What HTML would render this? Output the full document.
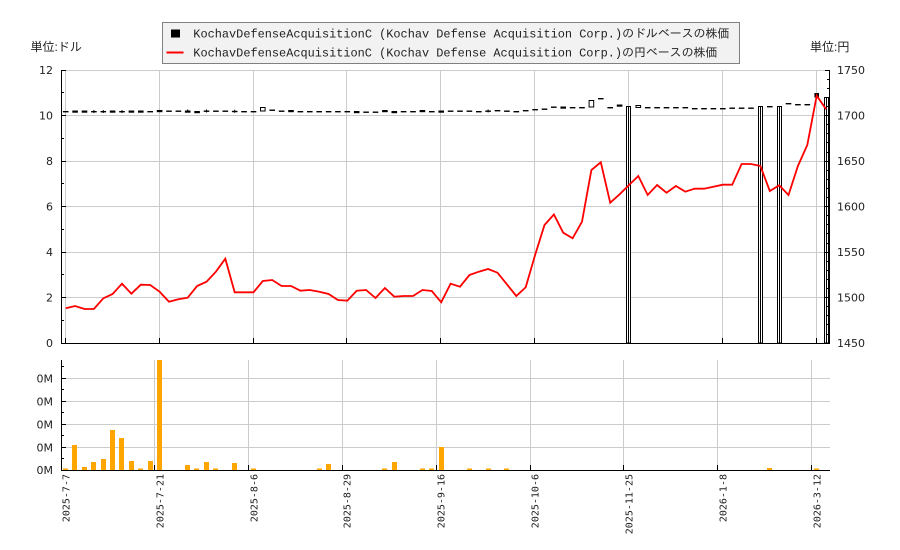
<!DOCTYPE html>
<html>
<head>
<meta charset="utf-8">
<style>
  html,body{margin:0;padding:0;background:#fff;}
  svg{display:block;}
  .ax{font-family:"DejaVu Sans","Liberation Sans",sans-serif;font-size:11px;fill:#222;}
  .unit{font-family:"Liberation Sans","Noto Sans CJK JP",sans-serif;font-size:12px;fill:#222;}
  .leg{font-family:"Liberation Mono","IPAGothic","Noto Sans CJK JP",monospace;font-size:12px;fill:#222;}
  .dt{font-family:"DejaVu Sans Mono","Liberation Mono",monospace;font-size:10px;fill:#222;}
</style>
</head>
<body>
<svg width="900" height="550" viewBox="0 0 900 550" xmlns="http://www.w3.org/2000/svg">
<rect x="0" y="0" width="900" height="550" fill="#fff"/>

<!-- ===== MAIN CHART GRID ===== -->
<g stroke="#cccccc" stroke-width="1" shape-rendering="crispEdges" fill="none">
  <line x1="61" y1="70.5" x2="830" y2="70.5"/>
  <line x1="61" y1="115.5" x2="830" y2="115.5"/>
  <line x1="61" y1="161.5" x2="830" y2="161.5"/>
  <line x1="61" y1="206.5" x2="830" y2="206.5"/>
  <line x1="61" y1="252.5" x2="830" y2="252.5"/>
  <line x1="61" y1="297.5" x2="830" y2="297.5"/>
  <line x1="65.5" y1="70" x2="65.5" y2="343"/>
  <line x1="159.5" y1="70" x2="159.5" y2="343"/>
  <line x1="253.5" y1="70" x2="253.5" y2="343"/>
  <line x1="346.5" y1="70" x2="346.5" y2="343"/>
  <line x1="440.5" y1="70" x2="440.5" y2="343"/>
  <line x1="534.5" y1="70" x2="534.5" y2="343"/>
  <line x1="628.5" y1="70" x2="628.5" y2="343"/>
  <line x1="722.5" y1="70" x2="722.5" y2="343"/>
  <line x1="816.5" y1="70" x2="816.5" y2="343"/>
</g>

<!-- ===== DOLLAR CANDLES ===== -->
<g fill="#000">
  <rect x="62.9" y="111" width="5.6" height="1.4"/>
  <rect x="72.3" y="110.5" width="5.6" height="2.2"/>
  <rect x="81.7" y="110.5" width="5.6" height="2.2"/>
  <rect x="91.1" y="111" width="5.6" height="1.4"/><rect x="93.4" y="110" width="1" height="3"/>
  <rect x="100.5" y="111" width="5.6" height="1.4"/><rect x="102.8" y="110" width="1" height="3"/>
  <rect x="109.8" y="110.5" width="5.6" height="2.2"/>
  <rect x="119.2" y="111" width="5.6" height="1.4"/><rect x="121.5" y="110" width="1" height="3"/>
  <rect x="128.6" y="110.5" width="5.6" height="2.2"/>
  <rect x="138" y="110.5" width="5.6" height="2.2"/>
  <rect x="147.4" y="111" width="5.6" height="1.4"/>
  <rect x="156.8" y="110" width="5.6" height="2.2"/>
  <rect x="166.2" y="110.5" width="5.6" height="1.4"/>
  <rect x="175.6" y="110.5" width="5.6" height="1.4"/>
  <rect x="184.9" y="110.5" width="5.6" height="2.2"/><rect x="187.2" y="109.5" width="1" height="3"/>
  <rect x="194.3" y="111" width="5.6" height="2.2"/>
  <rect x="203.7" y="110.5" width="5.6" height="1.4"/><rect x="206" y="109.5" width="1" height="3"/>
  <rect x="213.1" y="110.5" width="5.6" height="1.4"/>
  <rect x="222.5" y="110.5" width="5.6" height="1.4"/>
  <rect x="231.9" y="110.8" width="5.6" height="1.4"/><rect x="234.2" y="109.8" width="1" height="3"/>
  <rect x="241.3" y="111" width="5.6" height="1.4"/>
  <rect x="250.7" y="111" width="5.6" height="1.4"/>
  <rect x="260.5" y="107.5" width="4.6" height="3.5" fill="#fff" stroke="#000" stroke-width="1"/>
  <rect x="269.4" y="109.5" width="5.6" height="1.4"/>
  <rect x="278.8" y="110.5" width="5.6" height="1.4"/>
  <rect x="288.2" y="110" width="5.6" height="2.2"/>
  <rect x="297.6" y="111" width="5.6" height="1.4"/>
  <rect x="307" y="111" width="5.6" height="1.4"/>
  <rect x="316.4" y="111" width="5.6" height="1.4"/>
  <rect x="325.8" y="111" width="5.6" height="1.4"/>
  <rect x="335.1" y="111" width="5.6" height="1.4"/>
  <rect x="344.5" y="111" width="5.6" height="1.4"/>
  <rect x="353.9" y="111" width="5.6" height="2.2"/>
  <rect x="363.3" y="111.5" width="5.6" height="1.4"/>
  <rect x="372.7" y="111.5" width="5.6" height="1.4"/>
  <rect x="382.1" y="110" width="5.6" height="2.2"/>
  <rect x="391.5" y="111" width="5.6" height="2.2"/>
  <rect x="400.8" y="111" width="5.6" height="1.4"/>
  <rect x="410.2" y="111" width="5.6" height="1.4"/>
  <rect x="419.6" y="110" width="5.6" height="2.2"/>
  <rect x="429" y="111" width="5.6" height="1.4"/>
  <rect x="438.4" y="110.5" width="5.6" height="2.2"/>
  <rect x="447.8" y="110.5" width="5.6" height="1.4"/>
  <rect x="457.2" y="110.5" width="5.6" height="1.4"/>
  <rect x="466.6" y="110.5" width="5.6" height="1.4"/>
  <rect x="476" y="111" width="5.6" height="1.4"/>
  <rect x="485.3" y="110.5" width="5.6" height="1.4"/><rect x="487.6" y="109.5" width="1" height="3"/>
  <rect x="494.7" y="110" width="5.6" height="1.4"/>
  <rect x="504.1" y="110.5" width="5.6" height="1.4"/>
  <rect x="513.5" y="111" width="5.6" height="1.4"/>
  <rect x="522.9" y="110" width="5.6" height="1.4"/>
  <rect x="532.3" y="109" width="5.6" height="1.4"/>
  <rect x="541.7" y="108.5" width="5.6" height="1.4"/>
  <rect x="551" y="106.5" width="5.6" height="1.4"/>
  <rect x="560.4" y="106.5" width="5.6" height="2.2"/>
  <rect x="569.8" y="107" width="5.6" height="1.4"/>
  <rect x="579.2" y="107" width="5.6" height="1.4"/>
  <rect x="589.1" y="100.5" width="4.6" height="6.5" fill="#fff" stroke="#000" stroke-width="1"/>
  <rect x="598" y="98" width="5.6" height="1.4"/>
  <rect x="607.4" y="107" width="5.6" height="1.4"/>
  <rect x="616.8" y="104.5" width="5.6" height="2.2"/>
  <rect x="636" y="105.5" width="4.6" height="2" fill="#fff" stroke="#000" stroke-width="1"/>
  <rect x="644.9" y="107" width="5.6" height="1.4"/>
  <rect x="654.3" y="107" width="5.6" height="1.4"/>
  <rect x="663.7" y="107" width="5.6" height="1.4"/>
  <rect x="673.1" y="107" width="5.6" height="1.4"/>
  <rect x="682.5" y="107" width="5.6" height="1.4"/>
  <rect x="691.9" y="108" width="5.6" height="1.4"/>
  <rect x="701.2" y="108" width="5.6" height="1.4"/>
  <rect x="710.6" y="108" width="5.6" height="1.4"/>
  <rect x="720" y="108" width="5.6" height="1.4"/>
  <rect x="729.4" y="107.5" width="5.6" height="1.4"/>
  <rect x="738.8" y="107.5" width="5.6" height="1.4"/>
  <rect x="748.2" y="107.5" width="5.6" height="1.4"/>
  <rect x="767" y="106" width="5.6" height="1.4"/>
  <rect x="785.7" y="103" width="5.6" height="1.4"/>
  <rect x="795.1" y="104" width="5.6" height="1.4"/>
  <rect x="804.5" y="104" width="5.6" height="1.4"/>
  <rect x="814.4" y="93" width="4.6" height="4.5"/>
</g>
<!-- tall boxes -->
<g fill="#fff" stroke="#000" stroke-width="1" shape-rendering="crispEdges">
  <rect x="626.5" y="106.5" width="4" height="236.5"/>
  <line x1="628.5" y1="106.5" x2="628.5" y2="343"/>
  <rect x="758.5" y="106.5" width="4" height="236.5"/>
  <line x1="760.5" y1="106.5" x2="760.5" y2="343"/>
  <rect x="777.5" y="106.5" width="4" height="236.5"/>
  <line x1="779.5" y1="106.5" x2="779.5" y2="343"/>
  <rect x="824.5" y="97.5" width="4" height="245.5"/>
  <line x1="826.5" y1="97.5" x2="826.5" y2="343"/>
</g>

<!-- ===== RED YEN LINE ===== -->
<polyline fill="none" stroke="#ff0000" stroke-width="1.8" stroke-linejoin="miter" points="65.7,308.3 75.1,306 84.5,309 93.9,309 103.3,298.3 112.6,294 122,283.7 131.4,293.7 140.8,284.7 150.2,285 159.6,291.7 169,301.7 178.4,299.3 187.7,297.7 197.1,286 206.5,281.7 215.9,271.7 225.3,258.7 234.7,292.3 244.1,292.3 253.5,292.3 262.8,281 272.2,280 281.6,286 291,286 300.4,290.7 309.8,290 319.2,291.7 328.6,294 337.9,300 347.3,300.7 356.7,290.7 366.1,290 375.5,298 384.9,288 394.3,296.7 403.7,296 413,296 422.4,290 431.8,291 441.2,302.3 450.6,283.7 460,286.7 469.4,275 478.8,271.7 488.1,269 497.5,272.7 506.9,284.3 516.3,296 525.7,287.3 535.1,255 544.5,225 553.9,214.5 563.2,232.7 572.6,238.3 582,221.7 591.4,170 600.8,162.3 610.2,202.7 619.6,194.3 629,185 638.3,176 647.7,195 657.1,185 666.5,192.7 675.9,186 685.3,191.7 694.7,188.7 704,188.7 713.4,186.7 722.8,184.7 732.2,184.7 741.6,164 751,164 760.4,166 769.8,191 779.2,185.3 788.5,195 797.9,166 807.3,145 816.7,95.7 826.1,109.3"/>

<!-- ===== MAIN AXES ===== -->
<g stroke="#000" stroke-width="1" shape-rendering="crispEdges" fill="none">
  <line x1="61.5" y1="70" x2="61.5" y2="343.5"/>
  <line x1="829.5" y1="70" x2="829.5" y2="343.5"/>
  <line x1="61" y1="343.5" x2="830" y2="343.5"/>
  <line x1="61" y1="70.5" x2="66" y2="70.5"/>
  <line x1="61" y1="115.5" x2="66" y2="115.5"/>
  <line x1="61" y1="161.5" x2="66" y2="161.5"/>
  <line x1="61" y1="206.5" x2="66" y2="206.5"/>
  <line x1="61" y1="252.5" x2="66" y2="252.5"/>
  <line x1="61" y1="297.5" x2="66" y2="297.5"/>
  <line x1="61" y1="92.5" x2="64" y2="92.5"/>
  <line x1="61" y1="138.5" x2="64" y2="138.5"/>
  <line x1="61" y1="183.5" x2="64" y2="183.5"/>
  <line x1="61" y1="229.5" x2="64" y2="229.5"/>
  <line x1="61" y1="274.5" x2="64" y2="274.5"/>
  <line x1="61" y1="320.5" x2="64" y2="320.5"/>
  <line x1="825" y1="70.5" x2="830" y2="70.5"/>
  <line x1="825" y1="115.5" x2="830" y2="115.5"/>
  <line x1="825" y1="161.5" x2="830" y2="161.5"/>
  <line x1="825" y1="206.5" x2="830" y2="206.5"/>
  <line x1="825" y1="252.5" x2="830" y2="252.5"/>
  <line x1="825" y1="297.5" x2="830" y2="297.5"/>
  <line x1="827" y1="79.5" x2="830" y2="79.5"/>
  <line x1="827" y1="88.5" x2="830" y2="88.5"/>
  <line x1="827" y1="97.5" x2="830" y2="97.5"/>
  <line x1="827" y1="106.5" x2="830" y2="106.5"/>
  <line x1="827" y1="124.5" x2="830" y2="124.5"/>
  <line x1="827" y1="133.5" x2="830" y2="133.5"/>
  <line x1="827" y1="142.5" x2="830" y2="142.5"/>
  <line x1="827" y1="152.5" x2="830" y2="152.5"/>
  <line x1="827" y1="170.5" x2="830" y2="170.5"/>
  <line x1="827" y1="179.5" x2="830" y2="179.5"/>
  <line x1="827" y1="188.5" x2="830" y2="188.5"/>
  <line x1="827" y1="197.5" x2="830" y2="197.5"/>
  <line x1="827" y1="215.5" x2="830" y2="215.5"/>
  <line x1="827" y1="224.5" x2="830" y2="224.5"/>
  <line x1="827" y1="233.5" x2="830" y2="233.5"/>
  <line x1="827" y1="243.5" x2="830" y2="243.5"/>
  <line x1="827" y1="261.5" x2="830" y2="261.5"/>
  <line x1="827" y1="270.5" x2="830" y2="270.5"/>
  <line x1="827" y1="279.5" x2="830" y2="279.5"/>
  <line x1="827" y1="288.5" x2="830" y2="288.5"/>
  <line x1="827" y1="306.5" x2="830" y2="306.5"/>
  <line x1="827" y1="315.5" x2="830" y2="315.5"/>
  <line x1="827" y1="324.5" x2="830" y2="324.5"/>
  <line x1="827" y1="334.5" x2="830" y2="334.5"/>
  <line x1="65.5" y1="338" x2="65.5" y2="343"/>
  <line x1="159.5" y1="338" x2="159.5" y2="343"/>
  <line x1="253.5" y1="338" x2="253.5" y2="343"/>
  <line x1="346.5" y1="338" x2="346.5" y2="343"/>
  <line x1="440.5" y1="338" x2="440.5" y2="343"/>
  <line x1="534.5" y1="338" x2="534.5" y2="343"/>
  <line x1="628.5" y1="338" x2="628.5" y2="343"/>
  <line x1="722.5" y1="338" x2="722.5" y2="343"/>
  <line x1="816.5" y1="338" x2="816.5" y2="343"/>
</g>

<g class="ax" text-anchor="end">
  <text x="53" y="74">12</text>
  <text x="53" y="119.5">10</text>
  <text x="53" y="165">8</text>
  <text x="53" y="210.5">6</text>
  <text x="53" y="256">4</text>
  <text x="53" y="301.5">2</text>
  <text x="53" y="347">0</text>
</g>
<g class="ax">
  <text x="837" y="74">1750</text>
  <text x="837" y="119.5">1700</text>
  <text x="837" y="165">1650</text>
  <text x="837" y="210.5">1600</text>
  <text x="837" y="256">1550</text>
  <text x="837" y="301.5">1500</text>
  <text x="837" y="347">1450</text>
</g>
<text class="unit" x="30.5" y="51">単位:ドル</text>
<text class="unit" x="810" y="51">単位:円</text>

<!-- ===== LEGEND ===== -->
<rect x="162.5" y="22.5" width="577" height="41" fill="#f2f2f2" stroke="#808080" stroke-width="1" shape-rendering="crispEdges"/>
<rect x="171" y="29.5" width="9" height="8" fill="#000"/>
<line x1="166.5" y1="52.5" x2="183.5" y2="52.5" stroke="#ff0000" stroke-width="2"/>
<text class="leg" x="193.3" y="37.5" textLength="536" lengthAdjust="spacingAndGlyphs">KochavDefenseAcquisitionC (Kochav Defense Acquisition Corp.)のドルベースの株価</text>
<text class="leg" x="193.3" y="56.5" textLength="524" lengthAdjust="spacingAndGlyphs">KochavDefenseAcquisitionC (Kochav Defense Acquisition Corp.)の円ベースの株価</text>

<!-- ===== VOLUME CHART ===== -->
<g stroke="#cccccc" stroke-width="1" shape-rendering="crispEdges" fill="none">
  <line x1="61" y1="378.5" x2="830" y2="378.5"/>
  <line x1="61" y1="401.5" x2="830" y2="401.5"/>
  <line x1="61" y1="424.5" x2="830" y2="424.5"/>
  <line x1="61" y1="447.5" x2="830" y2="447.5"/>
  <line x1="154.5" y1="360" x2="154.5" y2="470"/>
  <line x1="248.5" y1="360" x2="248.5" y2="470"/>
  <line x1="342.5" y1="360" x2="342.5" y2="470"/>
  <line x1="436.5" y1="360" x2="436.5" y2="470"/>
  <line x1="530.5" y1="360" x2="530.5" y2="470"/>
  <line x1="623.5" y1="360" x2="623.5" y2="470"/>
  <line x1="717.5" y1="360" x2="717.5" y2="470"/>
  <line x1="811.5" y1="360" x2="811.5" y2="470"/>
</g>
<g fill="#ffa500" shape-rendering="crispEdges">
  <rect x="63" y="468.5" width="5" height="1.5"/>
  <rect x="72" y="445" width="5" height="25"/>
  <rect x="82" y="467" width="5" height="3"/>
  <rect x="91" y="462" width="5" height="8"/>
  <rect x="101" y="459" width="5" height="11"/>
  <rect x="110" y="430" width="5" height="40"/>
  <rect x="119" y="438" width="5" height="32"/>
  <rect x="129" y="461" width="5" height="9"/>
  <rect x="138" y="468.5" width="5" height="1.5"/>
  <rect x="148" y="461" width="5" height="9"/>
  <rect x="157" y="360" width="5" height="110"/>
  <rect x="185" y="465" width="5" height="5"/>
  <rect x="194" y="468.5" width="5" height="1.5"/>
  <rect x="204" y="462" width="5" height="8"/>
  <rect x="213" y="468.5" width="5" height="1.5"/>
  <rect x="232" y="463" width="5" height="7"/>
  <rect x="251" y="468.5" width="5" height="1.5"/>
  <rect x="317" y="468.5" width="5" height="1.5"/>
  <rect x="326" y="464" width="5" height="6"/>
  <rect x="382" y="468.5" width="5" height="1.5"/>
  <rect x="392" y="462" width="5" height="8"/>
  <rect x="420" y="468.5" width="5" height="1.5"/>
  <rect x="429" y="468.5" width="5" height="1.5"/>
  <rect x="439" y="447" width="5" height="23"/>
  <rect x="467" y="468.5" width="5" height="1.5"/>
  <rect x="486" y="468.5" width="5" height="1.5"/>
  <rect x="504" y="468.5" width="5" height="1.5"/>
  <rect x="767" y="468" width="5" height="2"/>
  <rect x="814" y="468.5" width="5" height="1.5"/>
</g>
<g stroke="#000" stroke-width="1" shape-rendering="crispEdges" fill="none">
  <line x1="61.5" y1="360" x2="61.5" y2="470.5"/>
  <line x1="61" y1="470.5" x2="830" y2="470.5"/>
  <line x1="61" y1="378.5" x2="66" y2="378.5"/>
  <line x1="61" y1="401.5" x2="66" y2="401.5"/>
  <line x1="61" y1="424.5" x2="66" y2="424.5"/>
  <line x1="61" y1="447.5" x2="66" y2="447.5"/>
  <line x1="61" y1="366.5" x2="64" y2="366.5"/>
  <line x1="61" y1="389.5" x2="64" y2="389.5"/>
  <line x1="61" y1="412.5" x2="64" y2="412.5"/>
  <line x1="61" y1="435.5" x2="64" y2="435.5"/>
  <line x1="61" y1="458.5" x2="64" y2="458.5"/>
  <line x1="154.5" y1="465" x2="154.5" y2="470"/>
  <line x1="248.5" y1="465" x2="248.5" y2="470"/>
  <line x1="342.5" y1="465" x2="342.5" y2="470"/>
  <line x1="436.5" y1="465" x2="436.5" y2="470"/>
  <line x1="530.5" y1="465" x2="530.5" y2="470"/>
  <line x1="623.5" y1="465" x2="623.5" y2="470"/>
  <line x1="717.5" y1="465" x2="717.5" y2="470"/>
  <line x1="811.5" y1="465" x2="811.5" y2="470"/>
</g>
<g class="ax" text-anchor="end">
  <text x="53" y="382.3">0M</text>
  <text x="53" y="405.3">0M</text>
  <text x="53" y="428.3">0M</text>
  <text x="53" y="451.3">0M</text>
  <text x="53" y="474">0M</text>
</g>

<g class="dt" text-anchor="end">
  <text transform="translate(69.5,474) rotate(-90)">2025-7-7</text>
  <text transform="translate(163.5,474) rotate(-90)">2025-7-21</text>
  <text transform="translate(257.5,474) rotate(-90)">2025-8-6</text>
  <text transform="translate(350.5,474) rotate(-90)">2025-8-29</text>
  <text transform="translate(444.5,474) rotate(-90)">2025-9-16</text>
  <text transform="translate(538.5,474) rotate(-90)">2025-10-6</text>
  <text transform="translate(632.5,474) rotate(-90)">2025-11-25</text>
  <text transform="translate(726.5,474) rotate(-90)">2026-1-8</text>
  <text transform="translate(820.5,474) rotate(-90)">2026-3-12</text>
</g>
</svg>
</body>
</html>
